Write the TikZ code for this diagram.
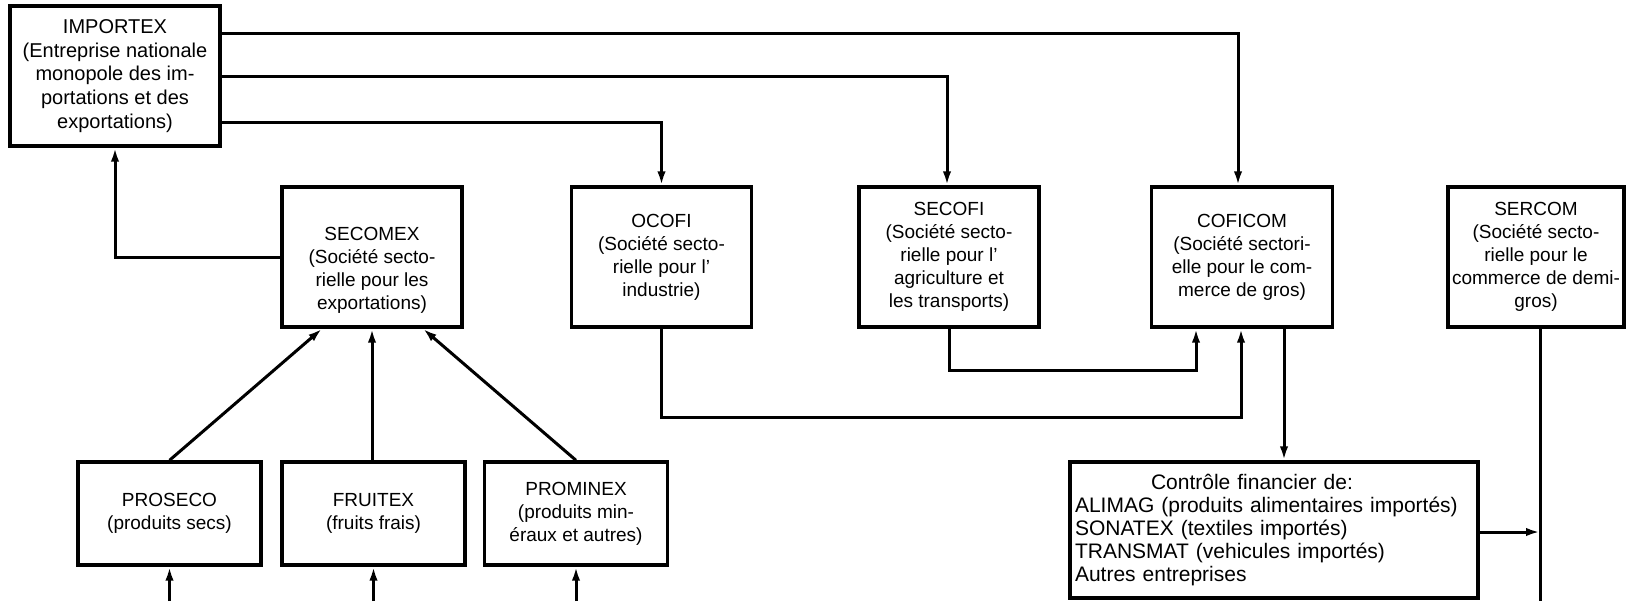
\documentclass[tikz,border=0pt]{standalone}
\usepackage{fontspec}
\setmainfont{Liberation Sans}
\usetikzlibrary{arrows.meta,calc}
\begin{document}
\begin{tikzpicture}[x=0.5pt,y=-0.5pt,
  box/.style={draw,line width=1.7pt,inner sep=0pt,align=center,
    font=\fontsize{9.5}{11.5}\selectfont},
  topbox/.style={box,minimum width=90pt,minimum height=70pt},
  lowbox/.style={box,minimum width=91.5pt,minimum height=51.5pt},
  conn/.style={line width=1.5pt},
  arr/.style={conn,-{Latex[length=7pt,width=4.2pt]}}]
\useasboundingbox[fill=white] (0,0) rectangle (1627,601);
% boxes
\node[box,minimum width=105pt,minimum height=70pt,font=\fontsize{10}{11.8}\selectfont] (imp) at (115,76)
  {IMPORTEX\\(Entreprise nationale\\monopole des im-\\portations et des\\exportations)};
\node[topbox] (sec) at (372,257)
  {\rule{0pt}{20pt}SECOMEX\\(Société secto-\\rielle pour les\\exportations)};
\node[topbox] (oco) at (661.5,257)
  {OCOFI\\(Société secto-\\rielle pour l'\\industrie)};
\node[topbox] (sfi) at (949,257)
  {SECOFI\\(Société secto-\\rielle pour l'\\agriculture et\\les transports)};
\node[topbox,minimum width=90.5pt] (cof) at (1242,257)
  {COFICOM\\(Société sectori-\\elle pour le com-\\merce de gros)};
\node[topbox,minimum width=88pt] (ser) at (1536,257)
  {SERCOM\\(Société secto-\\rielle pour le\\commerce de demi-\\gros)};
\node[lowbox] (pro) at (169.5,513.5) {PROSECO\\(produits secs)};
\node[lowbox] (fru) at (373.5,513.5) {FRUITEX\\(fruits frais)};
\node[lowbox] (prm) at (576,513.5) {PROMINEX\\(produits min-\\éraux et autres)};
\node[box,minimum width=204pt,minimum height=68pt,text width=199pt,align=left,
  font=\fontsize{10.5}{11.5}\selectfont] (ctl) at (1274,530)
  {\hspace*{38pt}Contrôle financier de:\\ALIMAG (produits alimentaires importés)\\SONATEX (textiles importés)\\TRANSMAT (vehicules importés)\\Autres entreprises};
% free ends at the bottom edge
\coordinate (proin) at (pro.south |- 0,601);
\coordinate (fruin) at (fru.south |- 0,601);
\coordinate (prmin) at (prm.south |- 0,601);
\coordinate (serout) at (1540,601);
% connectors
\draw[arr] (imp.east |- 0,33) -| (1238,0 |- cof.north);
\draw[arr] (imp.east |- 0,76) -| (947,0 |- sfi.north);
\draw[arr] (imp.east |- 0,122) -| (oco.north);
\draw[arr] (sec.west) -| (imp.south);
\draw[arr] (pro.north) -- (322,0 |- sec.south);
\draw[arr] (372,0 |- fru.north) -- (sec.south);
\draw[arr] (prm.north) -- (423,0 |- sec.south);
\draw[arr] (oco.south) -- (oco.south |- 0,417) -| (1241,0 |- cof.south);
\draw[arr] (sfi.south) -- (sfi.south |- 0,370) -| (1196,0 |- cof.south);
\draw[arr] (1284,0 |- cof.south) -- (1284,0 |- ctl.north);
\draw[conn] (1540,0 |- ser.south) -- (serout);
\draw[arr] (ctl.east |- 0,532) -- (1540,532);
\draw[arr] (proin) -- (pro.south);
\draw[arr] (fruin) -- (fru.south);
\draw[arr] (prmin) -- (prm.south);
\end{tikzpicture}
\end{document}
